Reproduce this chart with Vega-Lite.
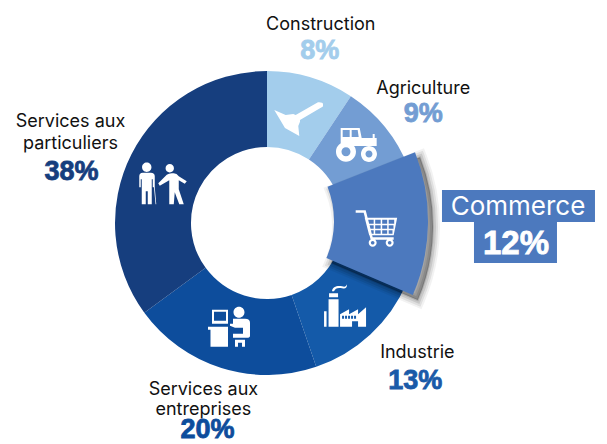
{"$schema":"https://vega.github.io/schema/vega-lite/v6.json","width":534,"height":442,"padding":{"left":0,"top":2,"right":73,"bottom":0},"autosize":{"type":"none"},"background":"white","config":{"view":{"stroke":null}},
"data":{"values":[
{"sector":"Construction","name":"Construction","label":"8%","share":9.3},
{"sector":"Agriculture","name":"Agriculture","label":"9%","share":9.75},
{"sector":"Commerce","name":"Commerce","label":"12%","share":12.4},
{"sector":"Industrie","name":"Industrie","label":"13%","share":13.3},
{"sector":"Services aux entreprises","name":"Services aux\nentreprises","label":"20%","share":20.2},
{"sector":"Services aux particuliers","name":"Services aux\nparticuliers","label":"38%","share":35.05}]},
"transform":[{"stack":"share","offset":"zero","as":["start","end"]},{"calculate":"(datum.start+datum.end)/2*PI/50","as":"mid"},{"calculate":"152*sin(datum.mid)","as":"ax"},{"calculate":"152*cos(datum.mid)","as":"ay"}],
"resolve":{"scale":{"x":"shared","y":"shared"}},
"layer":[
{"transform":[{"filter":"datum.sector!='Commerce'"}],"mark":{"type":"arc","innerRadius":76,"outerRadius":152},"encoding":{"theta":{"field":"start","type":"quantitative","scale":{"domain":[0,100],"range":[0,6.2832]}},"theta2":{"field":"end"},"color":{"field":"sector","type":"nominal","legend":null,"scale":{"domain":["Construction","Agriculture","Commerce","Industrie","Services aux entreprises","Services aux particuliers"],"range":["#a3cdec","#739dd3","#4c79be","#145aa9","#0d4d9c","#163e7e"]}}}},
{"transform":[{"filter":"datum.sector=='Commerce'"}],"mark":{"type":"arc","innerRadius":94,"outerRadius":188,"xOffset":-22,"yOffset":3,"fill":"#000","fillOpacity":0.05,"stroke":"#000","strokeOpacity":0.05,"strokeWidth":14},"encoding":{"theta":{"field":"start","type":"quantitative","scale":{"domain":[0,100],"range":[0,6.2832]}},"theta2":{"field":"end"}}},
{"transform":[{"filter":"datum.sector=='Commerce'"}],"mark":{"type":"arc","innerRadius":94,"outerRadius":188,"xOffset":-22,"yOffset":3,"fill":"#000","fillOpacity":0.08,"stroke":"#000","strokeOpacity":0.08,"strokeWidth":10},"encoding":{"theta":{"field":"start","type":"quantitative","scale":{"domain":[0,100],"range":[0,6.2832]}},"theta2":{"field":"end"}}},
{"transform":[{"filter":"datum.sector=='Commerce'"}],"mark":{"type":"arc","innerRadius":94,"outerRadius":188,"xOffset":-22,"yOffset":3,"fill":"#000","fillOpacity":0.1,"stroke":"#000","strokeOpacity":0.1,"strokeWidth":6},"encoding":{"theta":{"field":"start","type":"quantitative","scale":{"domain":[0,100],"range":[0,6.2832]}},"theta2":{"field":"end"}}},
{"transform":[{"filter":"datum.sector=='Commerce'"}],"mark":{"type":"arc","innerRadius":94,"outerRadius":188,"xOffset":-22,"yOffset":3,"fill":"#000","fillOpacity":0.12,"stroke":"#000","strokeOpacity":0.12,"strokeWidth":2},"encoding":{"theta":{"field":"start","type":"quantitative","scale":{"domain":[0,100],"range":[0,6.2832]}},"theta2":{"field":"end"}}},
{"transform":[{"filter":"datum.sector=='Commerce'"}],"mark":{"type":"arc","innerRadius":94,"outerRadius":188,"xOffset":-27,"yOffset":-2},"encoding":{"theta":{"field":"start","type":"quantitative","scale":{"domain":[0,100],"range":[0,6.2832]}},"theta2":{"field":"end"},"color":{"field":"sector","type":"nominal","legend":null}}},
{"transform":[{"filter":"datum.sector=='Commerce'"}],"mark":{"type":"rect","width":153,"height":32,"color":"#4c79be","xOffset":99.5,"yOffset":-19.4},"encoding":{"x":{"field":"ax","type":"quantitative","axis":null,"scale":{"domain":[-267,267],"nice":false,"zero":false}},"y":{"field":"ay","type":"quantitative","axis":null,"scale":{"domain":[-221,221],"nice":false,"zero":false}}}},
{"transform":[{"filter":"datum.sector=='Commerce'"}],"mark":{"type":"rect","width":83,"height":41,"color":"#4c79be","xOffset":96.5,"yOffset":17.1},"encoding":{"x":{"field":"ax","type":"quantitative","axis":null,"scale":{"domain":[-267,267],"nice":false,"zero":false}},"y":{"field":"ay","type":"quantitative","axis":null,"scale":{"domain":[-221,221],"nice":false,"zero":false}}}},
{"transform":[{"filter":"datum.sector=='Construction'"}],"mark":{"type":"point","filled":true,"color":"white","opacity":1,"size":4,"strokeWidth":0,"xOffset":-12.8,"yOffset":40.6,"shape":"M-23.7,-8 L-12.3,-3 L-4.7,-4 L-2.3,-3 L20,-15.7 Q25,-16 25,-14 Q25.5,-11 23.7,-10.7 L2,2 L2,3.7 L0.3,8 L1.3,18 L-13,10 Z"},"encoding":{"x":{"field":"ax","type":"quantitative","axis":null,"scale":{"domain":[-267,267],"nice":false,"zero":false}},"y":{"field":"ay","type":"quantitative","axis":null,"scale":{"domain":[-221,221],"nice":false,"zero":false}}}},
{"transform":[{"filter":"datum.sector=='Agriculture'"}],"mark":{"type":"point","filled":true,"color":"white","opacity":1,"size":4,"strokeWidth":0,"xOffset":-28.5,"yOffset":17.6,"shape":"M-16,-17 H3 L5,-7 H16 V-11 H18 V-7 H20 V1 H-16 Z M-14,-15 V-8 H-7 V-15 Z M-5,-15 V-8 H2 L1,-15 Z M-20.7,6.7 A10,10 0 1 1 -0.7,6.7 A10,10 0 1 1 -20.7,6.7 Z M-15.2,6.7 A4.5,4.5 0 1 0 -6.2,6.7 A4.5,4.5 0 1 0 -15.2,6.7 Z M4.3,9 A8,8 0 1 1 20.3,9 A8,8 0 1 1 4.3,9 Z M8.8,9 A3.5,3.5 0 1 0 15.8,9 A3.5,3.5 0 1 0 8.8,9 Z"},"encoding":{"x":{"field":"ax","type":"quantitative","axis":null,"scale":{"domain":[-267,267],"nice":false,"zero":false}},"y":{"field":"ay","type":"quantitative","axis":null,"scale":{"domain":[-221,221],"nice":false,"zero":false}}}},
{"transform":[{"filter":"datum.sector=='Commerce'"}],"mark":{"type":"point","filled":true,"color":"white","opacity":1,"size":4,"strokeWidth":0,"xOffset":-42.3,"yOffset":2.9,"shape":"M-12,-10.5 H20.5 L17,7 H-7.5 Z M-8.5,-8.5 V-4.5 H-3 V-8.5 Z M-1.5,-8.5 V-4.5 H4 V-8.5 Z M5.5,-8.5 V-4.5 H10.5 V-8.5 Z M12,-8.5 V-4.5 H17.5 V-8.5 Z M-7.5,-3 V0.5 H-3 V-3 Z M-1.5,-3 V0.5 H4 V-3 Z M5.5,-3 V0.5 H10.5 V-3 Z M12,-3 V0.5 H16.8 V-3 Z M-6.5,2 V5.5 H-3 V2 Z M-1.5,2 V5.5 H4 V2 Z M5.5,2 V5.5 H10.5 V2 Z M12,2 V5.5 H15.8 V2 Z M-21,-18 H-11 L-4,9 H17 V11.5 H-6 L-13,-15.5 H-21 Z M-8,14.5 A4,4 0 1 1 0,14.5 A4,4 0 1 1 -8,14.5 Z M-5.8,14.5 A1.8,1.8 0 1 0 -2.2,14.5 A1.8,1.8 0 1 0 -5.8,14.5 Z M9,14.5 A4,4 0 1 1 17,14.5 A4,4 0 1 1 9,14.5 Z M11.2,14.5 A1.8,1.8 0 1 0 14.8,14.5 A1.8,1.8 0 1 0 11.2,14.5 Z"},"encoding":{"x":{"field":"ax","type":"quantitative","axis":null,"scale":{"domain":[-267,267],"nice":false,"zero":false}},"y":{"field":"ay","type":"quantitative","axis":null,"scale":{"domain":[-221,221],"nice":false,"zero":false}}}},
{"transform":[{"filter":"datum.sector=='Industrie'"}],"mark":{"type":"point","filled":true,"color":"white","opacity":1,"size":4,"strokeWidth":0,"xOffset":-25.3,"yOffset":-26.2,"shape":"M-16,-15 H-7 V-11 H-16 Z M-16.5,-9 H-6.5 V18.5 H-16.5 Z M-21,3 H-18.5 V18.5 H-21 Z M-13,-17 C-13,-22 -7,-23 -3,-22 C0,-21 1,-22 2,-24 C2,-20 0,-19 -3,-20 C-7,-21 -10,-20 -11,-17 Z M-5,18.5 V6 L4,1 V6 L13,1 V6 L21,-1 V18.5 H13 V13 H7 V18.5 Z M-3,7.5 V10.5 H-1 V7.5 Z M0,7.5 V10.5 H2 V7.5 Z M3,7.5 V10.5 H5 V7.5 Z M6,7.5 V10.5 H8 V7.5 Z M9,7.5 V10.5 H11 V7.5 Z"},"encoding":{"x":{"field":"ax","type":"quantitative","axis":null,"scale":{"domain":[-267,267],"nice":false,"zero":false}},"y":{"field":"ay","type":"quantitative","axis":null,"scale":{"domain":[-221,221],"nice":false,"zero":false}}}},
{"transform":[{"filter":"datum.sector=='Services aux entreprises'"}],"mark":{"type":"point","filled":true,"color":"white","opacity":1,"size":4,"strokeWidth":0,"xOffset":8.6,"yOffset":-41.3,"shape":"M-18,-17 H-2 V-3 H-18 Z M-16,-15 V-6 H-4 V-15 Z M-22,0 H-2 V20 H-19.5 V3 H-22 Z M3.5,-14.5 A5.5,5.5 0 1 1 14.5,-14.5 A5.5,5.5 0 1 1 3.5,-14.5 Z M3,-8 H15 Q20,-8 20,-4 V9 Q20,11 17,11 H3 V7 H13 V1 H5 L0,-1 V-3 L3,-3 Z M5,13 H15 V20 H12 V16 H8 V20 H5 Z"},"encoding":{"x":{"field":"ax","type":"quantitative","axis":null,"scale":{"domain":[-267,267],"nice":false,"zero":false}},"y":{"field":"ay","type":"quantitative","axis":null,"scale":{"domain":[-221,221],"nice":false,"zero":false}}}},
{"transform":[{"filter":"datum.sector=='Services aux particuliers'"}],"mark":{"type":"point","filled":true,"color":"white","opacity":1,"size":4,"strokeWidth":0,"xOffset":30.3,"yOffset":29.1,"shape":"M-19.7,-16 A4.7,4.7 0 1 1 -10.3,-16 A4.7,4.7 0 1 1 -19.7,-16 Z M-22.5,-7 Q-22.5,-10.5 -19,-10.5 H-11 Q-7,-10.5 -7,-7 V4 H-9 V-4 H-10 V21 H-14 V8 H-16 V21 H-20 V-4 H-21 V4 H-22.5 Z M-7.8,4 H-7 L-5.5,21 H-6.2 Z M3.8,-15 A4.2,4.2 0 1 1 12.2,-15 A4.2,4.2 0 1 1 3.8,-15 Z M-3.5,0 L5,-8.5 Q7,-10 10,-10 H12 Q15,-10 17,-7 L25,-2 L23,0.5 L17,-3 V6 L22,21 H17.5 L13,9 L12,21 H7.5 L7.5,-3 L-2,2.5 Z"},"encoding":{"x":{"field":"ax","type":"quantitative","axis":null,"scale":{"domain":[-267,267],"nice":false,"zero":false}},"y":{"field":"ay","type":"quantitative","axis":null,"scale":{"domain":[-221,221],"nice":false,"zero":false}}}},
{"transform":[{"filter":"datum.sector=='Construction'"}],"mark":{"type":"text","font":"Inter","fontSize":18,"lineBreak":"\n","color":"#111","dx":10,"dy":-52},"encoding":{"x":{"field":"ax","type":"quantitative","axis":null,"scale":{"domain":[-267,267],"nice":false,"zero":false}},"y":{"field":"ay","type":"quantitative","axis":null,"scale":{"domain":[-221,221],"nice":false,"zero":false}},"text":{"field":"name"}}},
{"transform":[{"filter":"datum.sector=='Agriculture'"}],"mark":{"type":"text","font":"Inter","fontSize":18,"lineBreak":"\n","color":"#111","dx":38,"dy":-38},"encoding":{"x":{"field":"ax","type":"quantitative","axis":null,"scale":{"domain":[-267,267],"nice":false,"zero":false}},"y":{"field":"ay","type":"quantitative","axis":null,"scale":{"domain":[-221,221],"nice":false,"zero":false}},"text":{"field":"name"}}},
{"transform":[{"filter":"datum.sector=='Commerce'"}],"mark":{"type":"text","font":"Inter","fontSize":26,"lineBreak":"\n","color":"white","dx":99,"dy":-18},"encoding":{"x":{"field":"ax","type":"quantitative","axis":null,"scale":{"domain":[-267,267],"nice":false,"zero":false}},"y":{"field":"ay","type":"quantitative","axis":null,"scale":{"domain":[-221,221],"nice":false,"zero":false}},"text":{"field":"name"}}},
{"transform":[{"filter":"datum.sector=='Industrie'"}],"mark":{"type":"text","font":"Inter","fontSize":18,"lineBreak":"\n","color":"#111","dx":47,"dy":19},"encoding":{"x":{"field":"ax","type":"quantitative","axis":null,"scale":{"domain":[-267,267],"nice":false,"zero":false}},"y":{"field":"ay","type":"quantitative","axis":null,"scale":{"domain":[-221,221],"nice":false,"zero":false}},"text":{"field":"name"}}},
{"transform":[{"filter":"datum.sector=='Services aux entreprises'"}],"mark":{"type":"text","font":"Inter","fontSize":18,"lineBreak":"\n","lineHeight":20,"color":"#111","dx":-18,"dy":22},"encoding":{"x":{"field":"ax","type":"quantitative","axis":null,"scale":{"domain":[-267,267],"nice":false,"zero":false}},"y":{"field":"ay","type":"quantitative","axis":null,"scale":{"domain":[-221,221],"nice":false,"zero":false}},"text":{"field":"name"}}},
{"transform":[{"filter":"datum.sector=='Services aux particuliers'"}],"mark":{"type":"text","font":"Inter","fontSize":18,"lineBreak":"\n","lineHeight":22,"color":"#111","dx":-61,"dy":-32},"encoding":{"x":{"field":"ax","type":"quantitative","axis":null,"scale":{"domain":[-267,267],"nice":false,"zero":false}},"y":{"field":"ay","type":"quantitative","axis":null,"scale":{"domain":[-221,221],"nice":false,"zero":false}},"text":{"field":"name"}}},
{"transform":[{"filter":"datum.sector=='Construction'"}],"mark":{"type":"text","font":"Liberation Sans","fontWeight":"bold","fontSize":27,"color":"#a3cdec","stroke":"#a3cdec","strokeWidth":0.8,"dx":9,"dy":-26},"encoding":{"x":{"field":"ax","type":"quantitative","axis":null,"scale":{"domain":[-267,267],"nice":false,"zero":false}},"y":{"field":"ay","type":"quantitative","axis":null,"scale":{"domain":[-221,221],"nice":false,"zero":false}},"text":{"field":"label"}}},
{"transform":[{"filter":"datum.sector=='Agriculture'"}],"mark":{"type":"text","font":"Liberation Sans","fontWeight":"bold","fontSize":27,"color":"#739dd3","stroke":"#739dd3","strokeWidth":0.8,"dx":38,"dy":-13},"encoding":{"x":{"field":"ax","type":"quantitative","axis":null,"scale":{"domain":[-267,267],"nice":false,"zero":false}},"y":{"field":"ay","type":"quantitative","axis":null,"scale":{"domain":[-221,221],"nice":false,"zero":false}},"text":{"field":"label"}}},
{"transform":[{"filter":"datum.sector=='Commerce'"}],"mark":{"type":"text","font":"Liberation Sans","fontWeight":"bold","fontSize":33,"color":"white","stroke":"white","strokeWidth":0.8,"dx":97,"dy":19},"encoding":{"x":{"field":"ax","type":"quantitative","axis":null,"scale":{"domain":[-267,267],"nice":false,"zero":false}},"y":{"field":"ay","type":"quantitative","axis":null,"scale":{"domain":[-221,221],"nice":false,"zero":false}},"text":{"field":"label"}}},
{"transform":[{"filter":"datum.sector=='Industrie'"}],"mark":{"type":"text","font":"Liberation Sans","fontWeight":"bold","fontSize":27,"color":"#1a5aa8","stroke":"#1a5aa8","strokeWidth":0.8,"dx":45,"dy":47},"encoding":{"x":{"field":"ax","type":"quantitative","axis":null,"scale":{"domain":[-267,267],"nice":false,"zero":false}},"y":{"field":"ay","type":"quantitative","axis":null,"scale":{"domain":[-221,221],"nice":false,"zero":false}},"text":{"field":"label"}}},
{"transform":[{"filter":"datum.sector=='Services aux entreprises'"}],"mark":{"type":"text","font":"Liberation Sans","fontWeight":"bold","fontSize":27,"color":"#0d4d9c","stroke":"#0d4d9c","strokeWidth":0.8,"dx":-14,"dy":62},"encoding":{"x":{"field":"ax","type":"quantitative","axis":null,"scale":{"domain":[-267,267],"nice":false,"zero":false}},"y":{"field":"ay","type":"quantitative","axis":null,"scale":{"domain":[-221,221],"nice":false,"zero":false}},"text":{"field":"label"}}},
{"transform":[{"filter":"datum.sector=='Services aux particuliers'"}],"mark":{"type":"text","font":"Liberation Sans","fontWeight":"bold","fontSize":27,"color":"#163e7e","stroke":"#163e7e","strokeWidth":0.8,"dx":-60,"dy":18},"encoding":{"x":{"field":"ax","type":"quantitative","axis":null,"scale":{"domain":[-267,267],"nice":false,"zero":false}},"y":{"field":"ay","type":"quantitative","axis":null,"scale":{"domain":[-221,221],"nice":false,"zero":false}},"text":{"field":"label"}}}
]}
